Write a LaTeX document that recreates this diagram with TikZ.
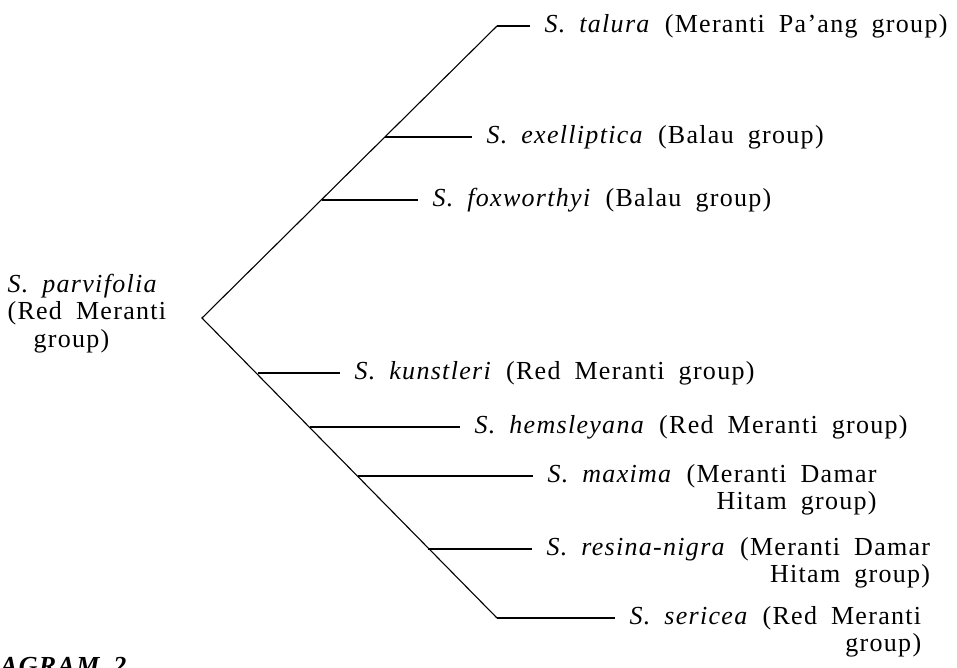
\documentclass[tikz,border=0pt]{standalone}
\usepackage{fontspec}
\setmainfont{Liberation Serif}[LetterSpace=5,WordSpace=1.8]

\begin{document}
\begin{tikzpicture}[x=1pt,y=-1pt,line width=1.1pt,
  every node/.style={font=\fontsize{26}{27.5}\selectfont},
  taxon/.style={anchor=base west,inner xsep=14pt,inner ysep=0pt}]
\useasboundingbox (0,0) rectangle (957,667);
\clip (0,0) rectangle (957,667);
\coordinate (root) at (202,318);
\coordinate (top) at (497,26);
\coordinate (bot) at (497,618);
\draw (top)--(root)--(bot);
% side branches
\coordinate (jexe) at (385,137);
\coordinate (jfox) at (322,200);
\coordinate (jkun) at (258,373);
\coordinate (jhem) at (310,427);
\coordinate (jmax) at (358,476);
\coordinate (jres) at (428,549);
\node[anchor=base west,inner sep=0pt] (par) at (7,292)
  {\begin{tabular}[t]{@{}l@{}}\textit{S. parvifolia}\\(Red Meranti\\\hspace{26pt}group)\end{tabular}};
\node[taxon] (tal) at (530,32) {\textit{S. talura} (Meranti Pa'ang group)};
\node[taxon] (exe) at (472,143) {\textit{S. exelliptica} (Balau group)};
\node[taxon] (fox) at (418,206) {\textit{S. foxworthyi} (Balau group)};
\node[taxon] (kun) at (340,379) {\textit{S. kunstleri} (Red Meranti group)};
\node[taxon] (hem) at (460,433) {\textit{S. hemsleyana} (Red Meranti group)};
\node[taxon] (max) at (533,482)
  {\begin{tabular}[t]{@{}r@{}}\textit{S. maxima} (Meranti Damar\\Hitam group)\end{tabular}};
\node[taxon] (res) at (532,555)
  {\begin{tabular}[t]{@{}r@{}}\textit{S. resina-nigra} (Meranti Damar\\Hitam group)\end{tabular}};
\node[taxon] (ser) at (615,624)
  {\begin{tabular}[t]{@{}r@{}}\textit{S. sericea} (Red Meranti\\group)\hspace{23pt}\end{tabular}};
\foreach \j/\t in {top/tal,jexe/exe,jfox/fox,jkun/kun,jhem/hem,jmax/max,jres/res,bot/ser}{
  \draw (\j)--(\j-|\t.west);
}
\node[anchor=base east,inner sep=0pt,font=\fontsize{26}{27.5}\selectfont\bfseries\itshape] (cap) at (127,674) {DIAGRAM 2};
\end{tikzpicture}
\end{document}
